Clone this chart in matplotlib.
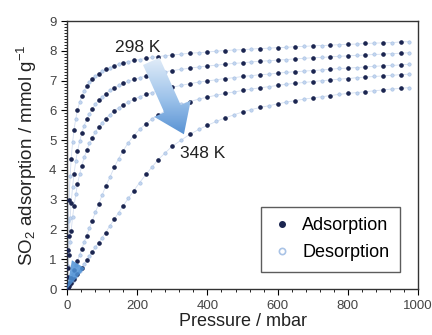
import numpy as np
import matplotlib
matplotlib.use("Agg")
import matplotlib.pyplot as plt
from matplotlib.patches import Polygon
from matplotlib.colors import LinearSegmentedColormap
from matplotlib.ticker import MultipleLocator

plt.rcParams["font.family"] = ["Liberation Sans", "DejaVu Sans"]
plt.rcParams["mathtext.fontset"] = "custom"
plt.rcParams["mathtext.rm"] = "Liberation Sans"
plt.rcParams["mathtext.it"] = "Liberation Sans"

# pressures (mbar)
p_ads = [2, 6, 12, 20, 30, 42, 56, 72, 90, 110, 135, 160, 190, 225, 260, 300, 350,
         400, 450, 500, 550, 600, 650, 700, 750, 800, 850, 900, 950]
p_des = [4, 9, 16, 25, 36, 49, 64, 81, 100, 122, 147, 175, 207, 242, 280, 325, 375,
         425, 475, 525, 575, 625, 675, 725, 775, 825, 875, 925, 975]

# uptake (mmol/g), one isotherm per temperature
ads_298 = [1.33, 3.00, 4.37, 5.34, 6.01, 6.48, 6.81, 7.05, 7.24, 7.38, 7.50, 7.59, 7.68, 7.75,
           7.81, 7.86, 7.92, 7.96, 8.01, 8.04, 8.08, 8.11, 8.14, 8.17, 8.19, 8.22, 8.25, 8.27, 8.30]
des_298 = [2.29, 3.79, 4.93, 5.72, 6.27, 6.66, 6.95, 7.15, 7.31, 7.44, 7.55, 7.64, 7.71, 7.78,
           7.84, 7.89, 7.94, 7.99, 8.03, 8.06, 8.09, 8.12, 8.15, 8.18, 8.21, 8.23, 8.26, 8.28, 8.31]

ads_308 = [0.70, 1.78, 2.89, 3.86, 4.63, 5.23, 5.70, 6.05, 6.34, 6.56, 6.76, 6.91, 7.04, 7.16,
           7.25, 7.34, 7.42, 7.49, 7.55, 7.60, 7.65, 7.69, 7.73, 7.77, 7.80, 7.83, 7.86, 7.89, 7.92]
des_308 = [1.28, 2.39, 3.43, 4.29, 4.96, 5.49, 5.89, 6.21, 6.46, 6.67, 6.84, 6.98, 7.10, 7.21,
           7.30, 7.38, 7.46, 7.52, 7.58, 7.63, 7.67, 7.71, 7.75, 7.78, 7.82, 7.85, 7.88, 7.91, 7.94]

ads_318 = [0.42, 1.13, 1.96, 2.78, 3.52, 4.14, 4.66, 5.09, 5.44, 5.72, 5.99, 6.19, 6.37, 6.54,
           6.66, 6.78, 6.90, 6.99, 7.07, 7.14, 7.20, 7.25, 7.30, 7.34, 7.38, 7.42, 7.46, 7.50, 7.53]
des_318 = [0.79, 1.57, 2.41, 3.18, 3.86, 4.42, 4.89, 5.27, 5.59, 5.86, 6.09, 6.29, 6.46, 6.60,
           6.72, 6.84, 6.95, 7.03, 7.10, 7.17, 7.22, 7.28, 7.32, 7.36, 7.41, 7.44, 7.48, 7.51, 7.55]

ads_333 = [0.06, 0.19, 0.38, 0.64, 0.96, 1.35, 1.80, 2.30, 2.85, 3.45, 4.10, 4.65, 5.15, 5.55,
           5.85, 6.10, 6.30, 6.45, 6.57, 6.67, 6.76, 6.84, 6.91, 6.97, 7.02, 7.07, 7.12, 7.16, 7.20]
des_333 = [0.12, 0.29, 0.51, 0.80, 1.15, 1.58, 2.05, 2.58, 3.15, 3.75, 4.38, 4.92, 5.37, 5.72,
           5.98, 6.20, 6.38, 6.51, 6.62, 6.72, 6.80, 6.88, 6.94, 7.00, 7.05, 7.10, 7.14, 7.18, 7.22]

ads_348 = [0.03, 0.10, 0.20, 0.34, 0.51, 0.72, 0.97, 1.25, 1.56, 1.90, 2.35, 2.80, 3.30, 3.85,
           4.35, 4.80, 5.20, 5.50, 5.75, 5.95, 6.10, 6.22, 6.33, 6.42, 6.50, 6.57, 6.63, 6.69, 6.74]
des_348 = [0.07, 0.15, 0.27, 0.43, 0.62, 0.85, 1.11, 1.41, 1.73, 2.12, 2.57, 3.05, 3.58, 4.10,
           4.58, 5.00, 5.36, 5.63, 5.85, 6.03, 6.16, 6.28, 6.38, 6.46, 6.54, 6.60, 6.66, 6.72, 6.77]

ads_all = [ads_298, ads_308, ads_318, ads_333, ads_348]
des_all = [des_298, des_308, des_318, des_333, des_348]

navy = "#1b2550"
light = "#a9c3e6"

fig = plt.figure(figsize=(4.32, 3.35), dpi=100)
ax = fig.add_axes([0.155, 0.137, 0.813, 0.80])

for ads, des in zip(ads_all, des_all):
    # faint line joining the points
    pp = np.array(p_ads + p_des)
    qq = np.array(ads + des)
    order = np.argsort(pp)
    ax.plot(np.concatenate([[0], pp[order]]), np.concatenate([[0], qq[order]]),
            color="#d3def0", lw=0.6, zorder=1)
    ax.plot(p_des, des, "o", ms=2.4, mfc="#c4d6ee", mec=light, mew=0.5, ls="none", zorder=2)
    ax.plot(p_ads, ads, "o", ms=2.3, color=navy, ls="none", zorder=3)

ax.set_xlim(0, 1000)
ax.set_ylim(0, 9)

# blue wedge near origin
wedge = Polygon([[0, 0], [14, 0.97], [51, 0.7]], closed=True, fc="#4f92d6", ec="none",
                alpha=0.85, zorder=4)
ax.add_patch(wedge)

# big gradient arrow 298 K -> 348 K (built in pixel-like units for correct shape)
W, H = 351.0, 268.0
def to_px(x, y):
    return np.array([x / 1000 * W, y / 9 * H])

start = to_px(240, 7.65)
tip = to_px(333, 5.2)
d = tip - start
L = np.hypot(*d)
u = d / L
n = np.array([-u[1], u[0]])
tail_w, head_w, head_l = 18, 40, 28
neck = tip - u * head_l
pts_px = [start + n * tail_w / 2, neck + n * tail_w / 2, neck + n * head_w / 2, tip,
          neck - n * head_w / 2, neck - n * tail_w / 2, start - n * tail_w / 2]
pts_ax = [(p[0] / W, p[1] / H) for p in pts_px]
arrow = Polygon(pts_ax, closed=True, transform=ax.transAxes, fc="none", ec="none")
ax.add_patch(arrow)
cmap = LinearSegmentedColormap.from_list("arr", ["#4a88cf", "#9cc2ea", "#e4eef9"])
grad = np.linspace(0, 1, 100).reshape(-1, 1)
im = ax.imshow(grad, cmap=cmap, aspect="auto", origin="lower",
               extent=[0.2, 0.85, 0.55, 0.87], transform=ax.transAxes, zorder=5)
im.set_clip_path(arrow)
ax.set_xlim(0, 1000)
ax.set_ylim(0, 9)

ax.text(137, 8.12, "298 K", fontsize=12.5, va="center", ha="left", color="#222222", zorder=6)
ax.text(322, 4.55, "348 K", fontsize=12.5, va="center", ha="left", color="#222222", zorder=6)

ax.xaxis.set_major_locator(MultipleLocator(200))
ax.xaxis.set_minor_locator(MultipleLocator(40))
ax.yaxis.set_major_locator(MultipleLocator(1))
ax.yaxis.set_minor_locator(MultipleLocator(0.1))
ax.tick_params(which="both", direction="out", labelsize=9.5, labelcolor="#444444",
               top=False, right=False)
ax.tick_params(which="major", length=4, width=0.8)
ax.tick_params(which="minor", length=2.5, width=0.6)
for s in ax.spines.values():
    s.set_linewidth(1.0)
    s.set_color("#333333")

ax.set_xlabel("Pressure / mbar", fontsize=13, labelpad=1, color="#222222")
ax.set_ylabel("SO$_2$ adsorption / mmol g$^{-1}$", fontsize=13.5, labelpad=7, color="#222222")

h1, = ax.plot([], [], "o", ms=4, color=navy, ls="none")
h2, = ax.plot([], [], "o", ms=4.5, mfc="white", mec=light, mew=1.2, ls="none")
leg = ax.legend([h1, h2], ["Adsorption", "Desorption"], loc="lower right",
                bbox_to_anchor=(0.949, 0.063), borderaxespad=0, fontsize=13, frameon=True,
                fancybox=False, edgecolor="#333333", handletextpad=0.5, borderpad=0.6,
                labelspacing=0.55, handlelength=1.2)
leg.get_frame().set_linewidth(1.0)

fig.savefig("out.png", dpi=100)
